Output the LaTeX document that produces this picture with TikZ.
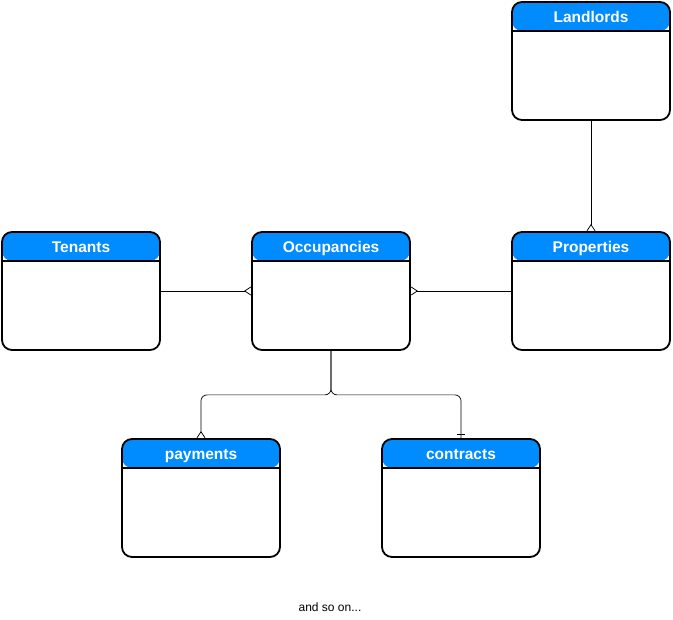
\documentclass[tikz,border=0pt]{standalone}
\usepackage{fontspec}
\setmainfont{Liberation Sans}
\usepackage{xcolor}
\usetikzlibrary{arrows.meta,decorations.markings}
\definecolor{headblue}{RGB}{0,140,255}

\begin{document}
\begin{tikzpicture}[x=1pt,y=-1pt,
    table/.style={draw, line width=1.8pt, rounded corners=10pt, minimum width=158pt, minimum height=118pt,
        path picture={\fill[headblue] (path picture bounding box.north west) rectangle ([yshift=-29pt]path picture bounding box.north east);
        \draw[line width=1.8pt] ([yshift=-29pt]path picture bounding box.north west) -- ([yshift=-29pt]path picture bounding box.north east);}},
    head/.style={anchor=base, yshift=-21pt, text=white, font=\fontsize{15.5}{18}\selectfont\bfseries},
    link/.style={line width=0.7pt},
    crowfoot/.style={-{Straight Barb[reversed,length=6pt,width=8pt,line width=0.7pt]}},
    tobar/.style={postaction={decorate}, decoration={markings, mark=at position 1 with {\draw[line width=0.7pt] (-4pt,-4pt) -- (-4pt,4pt);}}}]
    \useasboundingbox (0,0) rectangle (673,620);
    \node[table, label={[head]north:Landlords}] (landlords) at (591,61) {};
    \node[table, label={[head]north:Tenants}] (tenants) at (81,291) {};
    \node[table, label={[head]north:Occupancies}] (occupancies) at (331,291) {};
    \node[table, label={[head]north:Properties}] (properties) at (591,291) {};
    \node[table, label={[head]north:payments}] (payments) at (201,498) {};
    \node[table, label={[head]north:contracts}] (contracts) at (461,498) {};
    \draw[link, crowfoot] (tenants.east) -- (occupancies.west);
    \draw[link, crowfoot] (properties.west) -- (occupancies.east);
    \draw[link, crowfoot] (landlords.south) -- (properties.north);
    \draw[link, crowfoot, rounded corners=6pt] (occupancies.south) -- ++(0,44) -| (payments.north);
    \draw[link, tobar, rounded corners=6pt] (occupancies.south) -- ++(0,44) -| (contracts.north);
    \node[font=\fontsize{12}{14}\selectfont] (note) at (330,607) {and so on...};
\end{tikzpicture}
\end{document}
